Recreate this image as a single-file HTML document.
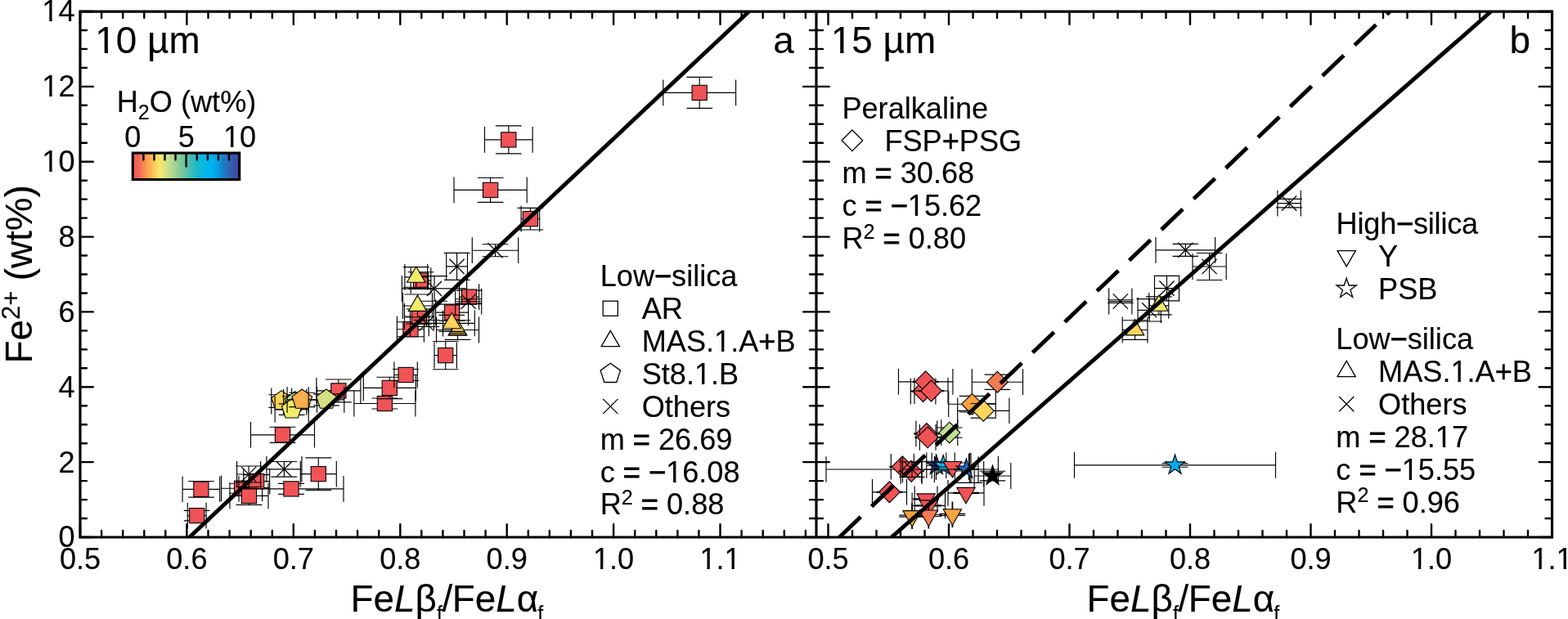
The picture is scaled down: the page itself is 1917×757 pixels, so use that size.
<!DOCTYPE html>
<html lang="en"><head><meta charset="utf-8"><title>Fe2+ vs FeLb/FeLa</title>
<style>html,body{margin:0;padding:0;background:#fff}body{width:1917px;height:757px;overflow:hidden}svg{display:block}text{font-family:"Liberation Sans",Arial,Helvetica,sans-serif;fill:#000;stroke:#000;stroke-width:0.12px}.o{stroke-width:0.8px}.p{stroke-width:0.45px}.s{font-size:36.15px}.b{font-size:45.83px}.e{stroke:#000;stroke-width:1.15;fill:none}.m{stroke:#000;stroke-width:1.1}.g{stroke:#000;stroke-width:1.3;fill:none}.t{stroke:#000;stroke-width:2.4;fill:none;stroke-linecap:round}.x{stroke:#000;stroke-width:1.3;fill:none}.l{stroke:#000;stroke-width:4.9;fill:none}</style></head><body>
<svg width="1917" height="757" viewBox="0 0 1917 757">
<rect width="1917" height="757" fill="#fff"/>
<defs><clipPath id="ca"><rect x="98" y="14" width="900" height="643"/></clipPath><clipPath id="cb"><rect x="998" y="14" width="899.5" height="643"/></clipPath>
<linearGradient id="cg" x1="0" x2="1" y1="0" y2="0">
<stop offset="0" stop-color="#f2585a"/>
<stop offset="0.05" stop-color="#f2655a"/>
<stop offset="0.085" stop-color="#f47b55"/>
<stop offset="0.126" stop-color="#f99d4f"/>
<stop offset="0.168" stop-color="#fbb355"/>
<stop offset="0.215" stop-color="#fbd65e"/>
<stop offset="0.257" stop-color="#f6e96a"/>
<stop offset="0.3" stop-color="#dce487"/>
<stop offset="0.346" stop-color="#bfdd90"/>
<stop offset="0.394" stop-color="#a3d594"/>
<stop offset="0.44" stop-color="#86cb99"/>
<stop offset="0.5" stop-color="#5fc2a5"/>
<stop offset="0.554" stop-color="#3abdb8"/>
<stop offset="0.614" stop-color="#17b9cf"/>
<stop offset="0.673" stop-color="#03b6e6"/>
<stop offset="0.733" stop-color="#00b2f0"/>
<stop offset="0.792" stop-color="#07a2e3"/>
<stop offset="0.84" stop-color="#1583c8"/>
<stop offset="0.893" stop-color="#2e69b5"/>
<stop offset="0.952" stop-color="#3a52a6"/>
<stop offset="1" stop-color="#3c4aa2"/>
</linearGradient></defs>
<g clip-path="url(#ca)">
<path class="e" d="M223.1 598.3H268.7M223.1 582.4V614.1M268.7 582.4V614.1M245.9 588.5V608.1M230.1 588.5H261.8M230.1 608.1H261.8"/>
<rect class="m" fill="#ef5356" x="236.8" y="589.2" width="18.2" height="18.2"/>
<path class="e" d="M229.3 630.6H252.1M229.3 614.8V646.5M252.1 614.8V646.5M240.7 624.4V636.8M224.8 624.4H256.6M224.8 636.8H256.6"/>
<rect class="m" fill="#ef5356" x="231.6" y="621.5" width="18.2" height="18.2"/>
<path class="e" d="M270.6 597.2H320.6M270.6 581.4V613.1M320.6 581.4V613.1M295.6 591.2V603.2M279.8 591.2H311.5M279.8 603.2H311.5"/>
<rect class="m" fill="#ef5356" x="286.5" y="588.1" width="18.2" height="18.2"/>
<path class="e" d="M297.7 588.6H329.7M297.7 572.8V604.5M329.7 572.8V604.5M313.7 580.6V596.6M297.8 580.6H329.6M297.8 596.6H329.6"/>
<rect class="m" fill="#ef5356" x="304.6" y="579.5" width="18.2" height="18.2"/>
<path class="e" d="M281 606.4H328M281 590.5V622.2M328 590.5V622.2M304.5 595.5V617.3M288.6 595.5H320.4M288.6 617.3H320.4"/>
<rect class="m" fill="#ef5356" x="295.4" y="597.3" width="18.2" height="18.2"/>
<path class="e" d="M292 597.9H420M292 582V613.8M420 582V613.8M356 591.4V604.4M340.1 591.4H371.9M340.1 604.4H371.9"/>
<rect class="m" fill="#ef5356" x="346.9" y="588.8" width="18.2" height="18.2"/>
<path class="e" d="M367.3 579.6H411.3M367.3 563.8V595.5M411.3 563.8V595.5M389.3 559.8V599.4M373.4 559.8H405.2M373.4 599.4H405.2"/>
<rect class="m" fill="#ef5356" x="380.2" y="570.5" width="18.2" height="18.2"/>
<path class="e" d="M306.5 531.8H384.5M306.5 515.9V547.6M384.5 515.9V547.6M345.5 522.2V541.4M329.6 522.2H361.4M329.6 541.4H361.4"/>
<rect class="m" fill="#ef5356" x="336.4" y="522.7" width="18.2" height="18.2"/>
<path class="e" d="M386.9 477.9H440.9M386.9 462V493.8M440.9 462V493.8M413.9 464V491.8M398 464H429.8M398 491.8H429.8"/>
<rect class="m" fill="#ef5356" x="404.8" y="468.8" width="18.2" height="18.2"/>
<path class="e" d="M432.9 493.5H507.9M432.9 477.6V509.4M507.9 477.6V509.4M470.4 487V500M454.5 487H486.2M454.5 500H486.2"/>
<rect class="m" fill="#ef5356" x="461.3" y="484.4" width="18.2" height="18.2"/>
<path class="e" d="M444.3 474.4H508.3M444.3 458.5V490.2M508.3 458.5V490.2M476.3 461.2V487.6M460.4 461.2H492.2M460.4 487.6H492.2"/>
<rect class="m" fill="#ef5356" x="467.2" y="465.3" width="18.2" height="18.2"/>
<path class="e" d="M481.9 458.5H510.3M481.9 442.6V474.4M510.3 442.6V474.4M496.1 451.5V465.5M480.2 451.5H512M480.2 465.5H512"/>
<rect class="m" fill="#ef5356" x="487" y="449.4" width="18.2" height="18.2"/>
<path class="e" d="M531 434.6H558.4M531 418.8V450.5M558.4 418.8V450.5M544.7 417.5V451.7M528.9 417.5H560.6M528.9 451.7H560.6"/>
<rect class="m" fill="#ef5356" x="535.6" y="425.5" width="18.2" height="18.2"/>
<path class="e" d="M485.4 402.7H518.4M485.4 386.8V418.6M518.4 386.8V418.6M501.9 393.7V411.7M486 393.7H517.8M486 411.7H517.8"/>
<rect class="m" fill="#ef5356" x="492.8" y="393.6" width="18.2" height="18.2"/>
<path class="e" d="M494.5 387H530.5M494.5 371.1V402.9M530.5 371.1V402.9M512.5 378V396M496.6 378H528.4M496.6 396H528.4"/>
<rect class="m" fill="#ef5356" x="503.4" y="377.9" width="18.2" height="18.2"/>
<path class="e" d="M532.6 382.1H572.6M532.6 366.2V398M572.6 366.2V398M552.6 372.1V392.1M536.8 372.1H568.5M536.8 392.1H568.5"/>
<rect class="m" fill="#ef5356" x="543.5" y="373" width="18.2" height="18.2"/>
<path class="e" d="M561.6 363.1H585.6M561.6 347.2V379M585.6 347.2V379M573.6 355.1V371.1M557.8 355.1H589.5M557.8 371.1H589.5"/>
<rect class="m" fill="#ef5356" x="564.5" y="354" width="18.2" height="18.2"/>
<path class="e" d="M502.2 343.1H526.8M502.2 327.2V359M526.8 327.2V359M514.5 332.7V353.5M498.6 332.7H530.4M498.6 353.5H530.4"/>
<rect class="m" fill="#ef5356" x="505.4" y="334" width="18.2" height="18.2"/>
<path class="e" d="M555 232.4H644.2M555 216.6V248.2M644.2 216.6V248.2M599.6 217.5V247.3M583.8 217.5H615.5M583.8 247.3H615.5"/>
<rect class="m" fill="#ef5356" x="590.5" y="223.3" width="18.2" height="18.2"/>
<path class="e" d="M637.1 267.7H659.7M637.1 251.8V283.6M659.7 251.8V283.6M648.4 254.4V281M632.5 254.4H664.2M632.5 281H664.2"/>
<rect class="m" fill="#ef5356" x="639.3" y="258.6" width="18.2" height="18.2"/>
<path class="e" d="M592.5 170.9H651.1M592.5 155.1V186.8M651.1 155.1V186.8M621.8 153.9V187.9M605.9 153.9H637.6M605.9 187.9H637.6"/>
<rect class="m" fill="#ef5356" x="612.7" y="161.8" width="18.2" height="18.2"/>
<path class="e" d="M810.8 113.4H899.6M810.8 97.6V129.2M899.6 97.6V129.2M855.2 94.4V132.4M839.4 94.4H871.1M839.4 132.4H871.1"/>
<rect class="m" fill="#ef5356" x="846.1" y="104.3" width="18.2" height="18.2"/>
<path class="e" d="M289.6 580H318.6M289.6 564.1V595.9M318.6 564.1V595.9M304.1 570V590M288.2 570H320M288.2 590H320"/>
<path class="x" d="M295 570.9L313.2 589.1M295 589.1L313.2 570.9"/>
<path class="e" d="M325.9 573.8H368.9M325.9 557.9V589.6M368.9 557.9V589.6M347.4 564.5V583.1M331.5 564.5H363.2M331.5 583.1H363.2"/>
<path class="x" d="M338.3 564.7L356.5 582.9M338.3 582.9L356.5 564.7"/>
<path class="e" d="M545.7 325.9H571.5M545.7 310V341.8M571.5 310V341.8M558.6 309.4V342.4M542.8 309.4H574.5M542.8 342.4H574.5"/>
<path class="x" d="M549.5 316.8L567.7 335M549.5 335L567.7 316.8"/>
<path class="e" d="M577.3 306.2H633.7M577.3 290.3V322.1M633.7 290.3V322.1M605.5 298.7V313.7M589.6 298.7H621.4M589.6 313.7H621.4"/>
<path class="x" d="M596.4 297.1L614.6 315.3M596.4 315.3L614.6 297.1"/>
<path class="e" d="M491.4 352.9H570.6M491.4 337V368.8M570.6 337V368.8M531 337.6V368.2M515.1 337.6H546.9M515.1 368.2H546.9"/>
<path class="x" d="M521.9 343.8L540.1 362M521.9 362L540.1 343.8"/>
<path class="e" d="M556.7 368.7H588.7M556.7 352.8V384.6M588.7 352.8V384.6M572.7 365.7V371.7M556.9 365.7H588.6M556.9 371.7H588.6"/>
<path class="x" d="M563.6 359.6L581.8 377.8M563.6 377.8L581.8 359.6"/>
<path class="e" d="M501.5 395.5H541.5M501.5 379.6V411.4M541.5 379.6V411.4M521.5 391.5V399.5M505.6 391.5H537.4M505.6 399.5H537.4"/>
<path class="x" d="M512.4 386.4L530.6 404.6M512.4 404.6L530.6 386.4"/>
<path class="e" d="M331.8 490.5H356.6M331.8 474.6V506.4M356.6 474.6V506.4M344.2 482.7V498.3M328.3 482.7H360.1M328.3 498.3H360.1"/>
<polygon class="m" fill="#fbd45c" points="344.2,477.6 356.5,486.5 351.8,500.9 336.6,500.9 331.9,486.5"/>
<path class="e" d="M346.7 491.7H374.7M346.7 475.8V507.6M374.7 475.8V507.6M360.7 484.7V498.7M344.8 484.7H376.6M344.8 498.7H376.6"/>
<polygon class="m" fill="#bfdf94" points="360.7,478.8 373,487.7 368.3,502.1 353.1,502.1 348.4,487.7"/>
<path class="e" d="M336.2 500.6H377.2M336.2 484.8V516.5M377.2 484.8V516.5M356.7 493.8V507.4M340.8 493.8H372.6M340.8 507.4H372.6"/>
<polygon class="m" fill="#f0eb6a" points="356.7,487.7 369,496.6 364.3,511 349.1,511 344.4,496.6"/>
<path class="e" d="M351.1 488.9H387.5M351.1 473V504.8M387.5 473V504.8M369.3 480.2V497.6M353.4 480.2H385.2M353.4 497.6H385.2"/>
<polygon class="m" fill="#f8af4f" points="369.3,476 381.6,484.9 376.9,499.3 361.7,499.3 357,484.9"/>
<path class="e" d="M377.2 488.9H420.8M377.2 473V504.8M420.8 473V504.8M399 481.9V495.9M383.1 481.9H414.9M383.1 495.9H414.9"/>
<polygon class="m" fill="#d5e085" points="399,476 411.3,484.9 406.6,499.3 391.4,499.3 386.7,484.9"/>
<path class="e" d="M533.5 403.5H585.5M533.5 387.6V419.4M585.5 387.6V419.4M559.5 391.7V415.3M543.6 391.7H575.4M543.6 415.3H575.4"/>
<polygon class="m" fill="#fbd45c" points="559.5,390.6 570.7,409.9 548.3,409.9"/>
<path class="e" d=""/>
<polygon class="m" fill="#a8883a" points="549.9,407.2 569.1,407.2 570.7,409.9 548.3,409.9"/>
<path class="e" d="M524.3 395.3H580.3M524.3 379.4V411.2M580.3 379.4V411.2M552.3 385.3V405.3M536.4 385.3H568.1M536.4 405.3H568.1"/>
<polygon class="m" fill="#fbd45c" points="552.3,382.4 563.5,401.8 541.1,401.8"/>
<path class="e" d="M492.5 374H528.5M492.5 358.1V389.9M528.5 358.1V389.9M510.5 360V388M494.6 360H526.4M494.6 388H526.4"/>
<polygon class="m" fill="#f0eb6a" points="510.5,361.1 521.7,380.4 499.3,380.4"/>
<path class="e" d="M494.9 338.9H522.7M494.9 323V354.8M522.7 323V354.8M508.8 326.6V351.2M492.9 326.6H524.6M492.9 351.2H524.6"/>
<polygon class="m" fill="#f0eb6a" points="508.8,326 520,345.3 497.6,345.3"/>
</g>
<g clip-path="url(#cb)">
<path class="e" d="M1010 574H1196M1010 558.3V589.7M1196 558.3V589.7M1185.5 553.7V589.7M1187 553.7V589.7M1202.7 564V595M1167.7 590.4H1201"/>
<path class="e" d="M1113.3 478.5H1143.9M1113.3 462.6V494.4M1143.9 462.6V494.4M1128.6 478V479M1112.8 478H1144.4M1112.8 479H1144.4"/>
<polygon class="m" fill="#ef5356" points="1128.6,465.6 1141.5,478.5 1128.6,491.4 1115.7,478.5"/>
<path class="e" d="M1098.5 466.8H1164.9M1098.5 450.9V482.7M1164.9 450.9V482.7M1131.7 466.3V467.3M1115.9 466.3H1147.5M1115.9 467.3H1147.5"/>
<polygon class="m" fill="#ef5356" points="1131.7,453.9 1144.6,466.8 1131.7,479.7 1118.8,466.8"/>
<path class="e" d="M1118 478H1159M1118 462.1V493.9M1159 462.1V493.9M1138.5 477.5V478.5M1122.7 477.5H1154.3M1122.7 478.5H1154.3"/>
<polygon class="m" fill="#ef5356" points="1138.5,465.1 1151.4,478 1138.5,490.9 1125.6,478"/>
<path class="e" d="M1188.3 467.2H1250.5M1188.3 451.3V483.1M1250.5 451.3V483.1M1219.4 458.1V476.3M1203.6 458.1H1235.2M1203.6 476.3H1235.2"/>
<polygon class="m" fill="#f47c52" points="1219.4,454.3 1232.3,467.2 1219.4,480.1 1206.5,467.2"/>
<path class="e" d="M1159.7 494.2H1217.3M1159.7 478.3V510.1M1217.3 478.3V510.1M1188.5 484.4V504M1172.7 484.4H1204.3M1172.7 504H1204.3"/>
<polygon class="m" fill="#f7a23f" points="1188.5,481.3 1201.4,494.2 1188.5,507.1 1175.6,494.2"/>
<path class="e" d="M1170.7 502.3H1233.9M1170.7 486.4V518.1M1233.9 486.4V518.1M1202.3 493.5V511.1M1186.5 493.5H1218.1M1186.5 511.1H1218.1"/>
<polygon class="m" fill="#fbd45c" points="1202.3,489.4 1215.2,502.3 1202.3,515.2 1189.4,502.3"/>
<path class="e" d="M1119.9 530.4H1145.7M1119.9 514.5V546.2M1145.7 514.5V546.2M1132.8 529.9V530.9M1117 529.9H1148.6M1117 530.9H1148.6"/>
<polygon class="m" fill="#ef5356" points="1132.8,517.5 1145.7,530.4 1132.8,543.3 1119.9,530.4"/>
<path class="e" d="M1124.4 534.9H1144M1124.4 519V550.8M1144 519V550.8M1134.2 534.4V535.4M1118.4 534.4H1150M1118.4 535.4H1150"/>
<polygon class="m" fill="#ef5356" points="1134.2,522 1147.1,534.9 1134.2,547.8 1121.3,534.9"/>
<path class="e" d="M1150.8 529.1H1170.8M1150.8 513.2V545M1170.8 513.2V545M1160.8 523V535.2M1145 523H1176.6M1145 535.2H1176.6"/>
<polygon class="m" fill="#bfdf94" points="1160.8,516.2 1173.7,529.1 1160.8,542 1147.9,529.1"/>
<path class="e" d="M1089.3 570.8H1117.3M1089.3 554.9V586.6M1117.3 554.9V586.6M1103.3 570.3V571.3M1087.5 570.3H1119.1M1087.5 571.3H1119.1"/>
<polygon class="m" fill="#ef5356" points="1103.3,557.9 1116.2,570.8 1103.3,583.7 1090.4,570.8"/>
<path class="e" d="M1101.2 576.2H1127.2M1101.2 560.4V592.1M1127.2 560.4V592.1M1114.2 575.7V576.7M1098.4 575.7H1130M1098.4 576.7H1130"/>
<polygon class="m" fill="#ef5356" points="1114.2,563.3 1127.1,576.2 1114.2,589.1 1101.3,576.2"/>
<path class="e" d="M1066.5 601.8H1108.5M1066.5 585.9V617.6M1108.5 585.9V617.6M1087.5 601.3V602.3M1071.7 601.3H1103.3M1071.7 602.3H1103.3"/>
<polygon class="m" fill="#ef5356" points="1087.5,588.9 1100.4,601.8 1087.5,614.7 1074.6,601.8"/>
<path class="e" d="M1103.5 574H1126.5M1103.5 558.1V589.9M1126.5 558.1V589.9M1115 564.7V583.3M1099.2 564.7H1130.8M1099.2 583.3H1130.8"/>
<path class="x" d="M1105.9 564.9L1124.1 583.1M1105.9 583.1L1124.1 564.9"/>
<path class="e" d="M1132.8 569.2H1156.8M1132.8 553.4V585.1M1156.8 553.4V585.1M1144.8 564.2V574.2M1129 564.2H1160.6M1129 574.2H1160.6"/>
<polygon class="m" fill="#3341a5" points="1144.8,556.3 1147.7,565.2 1157.1,565.2 1149.5,570.7 1152.4,579.6 1144.8,574.1 1137.2,579.6 1140.1,570.7 1132.5,565.2 1141.9,565.2"/>
<path class="e" d="M1139.2 569.5H1167.2M1139.2 553.6V585.4M1167.2 553.6V585.4M1153.2 565.5V573.5M1137.4 565.5H1169M1137.4 573.5H1169"/>
<polygon class="m" fill="#0fb5ec" points="1153.2,556.6 1156.1,565.5 1165.5,565.5 1157.9,571 1160.8,579.9 1153.2,574.4 1145.6,579.9 1148.5,571 1140.9,565.5 1150.3,565.5"/>
<path class="e" d="M1144.4 571H1184.4M1144.4 555.1V586.9M1184.4 555.1V586.9M1164.4 566V576M1148.6 566H1180.2M1148.6 576H1180.2"/>
<polygon class="m" fill="#ef5356" points="1164.4,583.9 1175.6,564.5 1153.2,564.5"/>
<path class="e" d="M1142.4 574H1220.4M1142.4 558.1V589.9M1220.4 558.1V589.9M1181.4 573.5V574.5M1165.6 573.5H1197.2M1165.6 574.5H1197.2"/>
<polygon class="m" fill="#2364c4" points="1181.4,561.1 1184.3,570 1193.7,570 1186.1,575.5 1189,584.4 1181.4,578.9 1173.8,584.4 1176.7,575.5 1169.1,570 1178.5,570"/>
<path class="e" d="M1191.2 582H1235.8M1191.2 566.1V597.9M1235.8 566.1V597.9M1213.5 576.2V587.8M1197.7 576.2H1229.3M1197.7 587.8H1229.3"/>
<polygon class="m" fill="#000" points="1213.5,569.1 1216.4,578 1225.8,578 1218.2,583.5 1221.1,592.4 1213.5,586.9 1205.9,592.4 1208.8,583.5 1201.2,578 1210.6,578"/>
<path class="e" d="M1313.5 568.9H1559.5M1313.5 553V584.8M1559.5 553V584.8M1436.5 566.6V571.2M1420.7 566.6H1452.3M1420.7 571.2H1452.3"/>
<polygon class="m" fill="#08aae6" points="1436.5,556 1439.4,564.9 1448.8,564.9 1441.2,570.4 1444.1,579.3 1436.5,573.8 1428.9,579.3 1431.8,570.4 1424.2,564.9 1433.6,564.9"/>
<path class="e" d="M1118.2 610.4H1146M1118.2 594.5V626.2M1146 594.5V626.2M1132.1 609.9V610.9M1116.2 609.9H1147.9M1116.2 610.9H1147.9"/>
<polygon class="m" fill="#ef5356" points="1132.1,623.3 1143.3,603.9 1120.9,603.9"/>
<path class="e" d="M1115.1 618.4H1155.5M1115.1 602.5V634.2M1155.5 602.5V634.2M1135.3 617.9V618.9M1119.5 617.9H1151.1M1119.5 618.9H1151.1"/>
<polygon class="m" fill="#ef5356" points="1135.3,631.3 1146.5,611.9 1124.1,611.9"/>
<path class="e" d="M1159 602.9H1203M1159 587V618.8M1203 587V618.8M1181 602.4V603.4M1165.2 602.4H1196.8M1165.2 603.4H1196.8"/>
<polygon class="m" fill="#ef5356" points="1181,615.8 1192.2,596.4 1169.8,596.4"/>
<path class="e" d="M1114.8 631.1H1115.4M1114.8 615.2V647M1115.4 615.2V647M1115.1 630.1V632.1M1099.2 630.1H1130.9M1099.2 632.1H1130.9"/>
<polygon class="m" fill="#f7a23f" points="1115.1,644 1126.3,624.6 1103.9,624.6"/>
<path class="e" d="M1135 630.5H1135.6M1135 614.6V646.4M1135.6 614.6V646.4M1135.3 629.5V631.5M1119.5 629.5H1151.1M1119.5 631.5H1151.1"/>
<polygon class="m" fill="#f47c52" points="1135.3,643.4 1146.5,624 1124.1,624"/>
<path class="e" d="M1164.1 629.3H1164.7M1164.1 613.4V645.1M1164.7 613.4V645.1M1164.4 628.3V630.3M1148.6 628.3H1180.2M1148.6 630.3H1180.2"/>
<polygon class="m" fill="#f7a23f" points="1164.4,642.2 1175.6,622.8 1153.2,622.8"/>
<path class="e" d="M1413 305.9H1485.6M1413 290V321.8M1485.6 290V321.8M1449.3 298.4V313.4M1433.5 298.4H1465.1M1433.5 313.4H1465.1"/>
<path class="x" d="M1440.2 296.8L1458.4 315M1440.2 315L1458.4 296.8"/>
<path class="e" d="M1458 326H1499.2M1458 310.1V341.9M1499.2 310.1V341.9M1478.6 309.5V342.5M1462.8 309.5H1494.4M1462.8 342.5H1494.4"/>
<path class="x" d="M1469.5 316.9L1487.7 335.1M1469.5 335.1L1487.7 316.9"/>
<path class="e" d="M1411.5 352.6H1441.5M1411.5 336.8V368.5M1441.5 336.8V368.5M1426.5 337.3V367.9M1410.7 337.3H1442.3M1410.7 367.9H1442.3"/>
<path class="x" d="M1417.4 343.5L1435.6 361.7M1417.4 361.7L1435.6 343.5"/>
<path class="e" d="M1355.7 368.5H1383.9M1355.7 352.6V384.4M1383.9 352.6V384.4M1369.8 366.7V370.3M1354 366.7H1385.6M1354 370.3H1385.6"/>
<path class="x" d="M1360.7 359.4L1378.9 377.6M1360.7 377.6L1378.9 359.4"/>
<path class="e" d="M1391.1 379.3H1419.3M1391.1 363.4V395.2M1419.3 363.4V395.2M1405.2 365.6V393M1389.4 365.6H1421M1389.4 393H1421"/>
<path class="x" d="M1396.1 370.2L1414.3 388.4M1396.1 388.4L1414.3 370.2"/>
<path class="e" d="M1561.9 248.6H1590.3M1561.9 232.8V264.4M1590.3 232.8V264.4M1576.1 243.4V253.8M1560.2 243.4H1591.9M1560.2 253.8H1591.9"/>
<path class="x" d="M1567 239.5L1585.2 257.7M1567 257.7L1585.2 239.5"/>
<path class="e" d="M1404.8 373.9H1428.8M1404.8 358V389.8M1428.8 358V389.8M1416.8 362.9V384.9M1401 362.9H1432.6M1401 384.9H1432.6"/>
<polygon class="m" fill="#f0eb6a" points="1416.8,361 1428,380.3 1405.6,380.3"/>
<path class="e" d="M1372.2 403.5H1403M1372.2 387.6V419.4M1403 387.6V419.4M1387.6 391.7V415.3M1371.8 391.7H1403.4M1371.8 415.3H1403.4"/>
<polygon class="m" fill="#fbd45c" points="1387.6,390.6 1398.8,409.9 1376.4,409.9"/>
</g>
<g clip-path="url(#ca)"><line class="l" x1="231.6" y1="657" x2="915.7" y2="14"/></g>
<g clip-path="url(#cb)"><line class="l" x1="1089.9" y1="657" x2="1822.9" y2="14"/>
<line class="l" stroke-dasharray="36.2 18.25" stroke-dashoffset="0" x1="1026.2" y1="657" x2="1699.2" y2="14"/></g>
<path class="t" d="M98 657h15.8M982.2 657h31.6M1897.5 657h-15.8M98 634h8M990 634h16M1897.5 634h-8M98 611.1h8M990 611.1h16M1897.5 611.1h-8M98 588.1h8M990 588.1h16M1897.5 588.1h-8M98 565.1h15.8M982.2 565.1h31.6M1897.5 565.1h-15.8M98 542.2h8M990 542.2h16M1897.5 542.2h-8M98 519.2h8M990 519.2h16M1897.5 519.2h-8M98 496.2h8M990 496.2h16M1897.5 496.2h-8M98 473.3h15.8M982.2 473.3h31.6M1897.5 473.3h-15.8M98 450.3h8M990 450.3h16M1897.5 450.3h-8M98 427.4h8M990 427.4h16M1897.5 427.4h-8M98 404.4h8M990 404.4h16M1897.5 404.4h-8M98 381.4h15.8M982.2 381.4h31.6M1897.5 381.4h-15.8M98 358.5h8M990 358.5h16M1897.5 358.5h-8M98 335.5h8M990 335.5h16M1897.5 335.5h-8M98 312.5h8M990 312.5h16M1897.5 312.5h-8M98 289.6h15.8M982.2 289.6h31.6M1897.5 289.6h-15.8M98 266.6h8M990 266.6h16M1897.5 266.6h-8M98 243.6h8M990 243.6h16M1897.5 243.6h-8M98 220.7h8M990 220.7h16M1897.5 220.7h-8M98 197.7h15.8M982.2 197.7h31.6M1897.5 197.7h-15.8M98 174.8h8M990 174.8h16M1897.5 174.8h-8M98 151.8h8M990 151.8h16M1897.5 151.8h-8M98 128.8h8M990 128.8h16M1897.5 128.8h-8M98 105.9h15.8M982.2 105.9h31.6M1897.5 105.9h-15.8M98 82.9h8M990 82.9h16M1897.5 82.9h-8M98 59.9h8M990 59.9h16M1897.5 59.9h-8M98 37h8M990 37h16M1897.5 37h-8M98 14h15.8M982.2 14h31.6M1897.5 14h-15.8M98 657v-15.8M98 14v15.8M124.1 657v-8M124.1 14v8M150.2 657v-8M150.2 14v8M176.3 657v-8M176.3 14v8M202.3 657v-8M202.3 14v8M228.4 657v-15.8M228.4 14v15.8M254.5 657v-8M254.5 14v8M280.6 657v-8M280.6 14v8M306.7 657v-8M306.7 14v8M332.8 657v-8M332.8 14v8M358.8 657v-15.8M358.8 14v15.8M384.9 657v-8M384.9 14v8M411 657v-8M411 14v8M437.1 657v-8M437.1 14v8M463.2 657v-8M463.2 14v8M489.3 657v-15.8M489.3 14v15.8M515.3 657v-8M515.3 14v8M541.4 657v-8M541.4 14v8M567.5 657v-8M567.5 14v8M593.6 657v-8M593.6 14v8M619.7 657v-15.8M619.7 14v15.8M645.8 657v-8M645.8 14v8M671.8 657v-8M671.8 14v8M697.9 657v-8M697.9 14v8M724 657v-8M724 14v8M750.1 657v-15.8M750.1 14v15.8M776.2 657v-8M776.2 14v8M802.3 657v-8M802.3 14v8M828.4 657v-8M828.4 14v8M854.4 657v-8M854.4 14v8M880.5 657v-15.8M880.5 14v15.8M906.6 657v-8M906.6 14v8M932.7 657v-8M932.7 14v8M958.8 657v-8M958.8 14v8M984.9 657v-8M984.9 14v8M1012.5 657v-15.8M1012.5 14v15.8M1042 657v-8M1042 14v8M1071.5 657v-8M1071.5 14v8M1101 657v-8M1101 14v8M1130.5 657v-8M1130.5 14v8M1160 657v-15.8M1160 14v15.8M1189.5 657v-8M1189.5 14v8M1219 657v-8M1219 14v8M1248.5 657v-8M1248.5 14v8M1278 657v-8M1278 14v8M1307.5 657v-15.8M1307.5 14v15.8M1337 657v-8M1337 14v8M1366.5 657v-8M1366.5 14v8M1396 657v-8M1396 14v8M1425.5 657v-8M1425.5 14v8M1455 657v-15.8M1455 14v15.8M1484.5 657v-8M1484.5 14v8M1514 657v-8M1514 14v8M1543.5 657v-8M1543.5 14v8M1573 657v-8M1573 14v8M1602.5 657v-15.8M1602.5 14v15.8M1632 657v-8M1632 14v8M1661.5 657v-8M1661.5 14v8M1691 657v-8M1691 14v8M1720.5 657v-8M1720.5 14v8M1750 657v-15.8M1750 14v15.8M1779.5 657v-8M1779.5 14v8M1809 657v-8M1809 14v8M1838.5 657v-8M1838.5 14v8M1868 657v-8M1868 14v8"/>
<path d="M98 14.15H1897.5V657H98ZM998 14.15V657" fill="none" stroke="#000" stroke-width="3.15" stroke-linejoin="miter"/>
<text class="s" text-anchor="end" x="91.5" y="669.4">0</text>
<text class="s" text-anchor="end" x="91.5" y="577.5">2</text>
<text class="s" text-anchor="end" x="91.5" y="485.7">4</text>
<text class="s" text-anchor="end" x="91.5" y="393.8">6</text>
<text class="s" text-anchor="end" x="91.5" y="302">8</text>
<text class="s" text-anchor="end" x="91.5" y="210.1">10</text>
<text class="s" text-anchor="end" x="91.5" y="118.3">12</text>
<text class="s" text-anchor="end" x="91.5" y="26.4">14</text>
<text class="s" text-anchor="middle" x="98" y="696">0.5</text>
<text class="s" text-anchor="middle" x="1012.5" y="696">0.5</text>
<text class="s" text-anchor="middle" x="228.4" y="696">0.6</text>
<text class="s" text-anchor="middle" x="1160" y="696">0.6</text>
<text class="s" text-anchor="middle" x="358.8" y="696">0.7</text>
<text class="s" text-anchor="middle" x="1307.5" y="696">0.7</text>
<text class="s" text-anchor="middle" x="489.3" y="696">0.8</text>
<text class="s" text-anchor="middle" x="1455" y="696">0.8</text>
<text class="s" text-anchor="middle" x="619.7" y="696">0.9</text>
<text class="s" text-anchor="middle" x="1602.5" y="696">0.9</text>
<text class="s" text-anchor="middle" x="750.1" y="696">1.0</text>
<text class="s" text-anchor="middle" x="1750" y="696">1.0</text>
<text class="s" text-anchor="middle" x="880.5" y="696">1.1</text>
<text class="s" text-anchor="middle" x="1897.5" y="696">1.1</text>
<text class="b" x="428.6" y="748">Fe<tspan font-style="italic">L</tspan>β<tspan font-size="25" dy="10.7" dx="0">f</tspan><tspan dy="-10.7" dx="-0.4">/</tspan><tspan dx="-0.6">Fe</tspan><tspan font-style="italic">L</tspan>α<tspan font-size="25" dy="10.7" dx="-0.8">f</tspan></text>
<text class="b" x="1328.6" y="748">Fe<tspan font-style="italic">L</tspan>β<tspan font-size="25" dy="10.7" dx="0">f</tspan><tspan dy="-10.7" dx="-0.4">/</tspan><tspan dx="-0.6">Fe</tspan><tspan font-style="italic">L</tspan>α<tspan font-size="25" dy="10.7" dx="-0.8">f</tspan></text>
<text class="b" text-anchor="middle" transform="translate(38.8 335.3) rotate(-90)">Fe<tspan font-size="31" dy="-15">2+</tspan><tspan dy="15" dx="-0.5"> (wt%)</tspan></text>
<text class="b" x="116.3" y="64.8">10 µm</text>
<text class="b" x="1015.8" y="64.8">15 µm</text>
<text class="b" text-anchor="end" x="970.8" y="65.4">a</text>
<text class="b" text-anchor="end" x="1871" y="65.2">b</text>
<rect x="162.3" y="187.1" width="130.4" height="32.5" fill="url(#cg)"/>
<path class="t" d="M175.4 187.1v8.3M188.5 187.1v8.3M201.5 187.1v8.3M214.6 187.1v8.3M227.7 187.1v16.5M240.8 187.1v8.3M253.9 187.1v8.3M266.9 187.1v8.3M280 187.1v8.3"/>
<rect x="162.3" y="187.1" width="130.4" height="32.5" fill="none" stroke="#000" stroke-width="3.15"/>
<text class="s" text-anchor="middle" x="162.3" y="180.3">0</text><text class="s" text-anchor="middle" x="227.7" y="180.3">5</text><text class="s" text-anchor="middle" x="293.1" y="180.3">10</text>
<text class="s" text-anchor="middle" x="228" y="136.6">H<tspan font-size="25.2" dy="9">2</tspan><tspan dy="-9">O (wt%)</tspan></text>
<text class="s" x="733.7" y="350.1">Low<tspan class="o">−</tspan>silica</text>
<rect class="g" fill="none" x="737.2" y="368.2" width="18.1" height="18.1"/>
<text class="s" x="784.7" y="390">AR</text>
<polygon class="g" fill="none" points="746.3,404.4 757.4,423.6 735.2,423.6"/>
<text class="s" x="784.7" y="429.9">MAS.1.A<tspan class="p">+</tspan>B</text>
<polygon class="g" fill="none" points="746.3,444.3 758.5,453.1 753.8,467.5 738.8,467.5 734.1,453.1"/>
<text class="s" x="784.7" y="469.8">St8.1.B</text>
<path class="g" d="M737.2 487.9L755.4 506.1M737.2 506.1L755.4 487.9"/>
<text class="s" x="784.7" y="509.7">Others</text>
<text class="s" x="733.7" y="549.6">m <tspan class="o">=</tspan> 26.69</text>
<text class="s" x="733.7" y="589.5">c <tspan class="o">=</tspan> <tspan class="o">−</tspan>16.08</text>
<text class="s" x="733.7" y="629.4">R<tspan font-size="25.2" dy="-12.5">2</tspan><tspan dy="12.5"> </tspan><tspan class="o">=</tspan> 0.88</text>
<text class="s" x="1029.4" y="144.6">Peralkaline</text>
<polygon class="g" fill="none" points="1041.9,159 1054.7,171.8 1041.9,184.6 1029.1,171.8"/>
<text class="s" x="1081.4" y="184.5">FSP<tspan class="p">+</tspan>PSG</text>
<text class="s" x="1029.4" y="224.4">m <tspan class="o">=</tspan> 30.68</text>
<text class="s" x="1029.4" y="264.3">c <tspan class="o">=</tspan> <tspan class="o">−</tspan>15.62</text>
<text class="s" x="1029.4" y="304.2">R<tspan font-size="25.2" dy="-12.5">2</tspan><tspan dy="12.5"> </tspan><tspan class="o">=</tspan> 0.80</text>
<text class="s" letter-spacing="-0.22" x="1633.6" y="285.9">High<tspan class="o">−</tspan>silica</text>
<polygon class="g" fill="none" points="1646.2,325.9 1657.3,306.7 1635.1,306.7"/>
<text class="s" x="1685.1" y="325.8">Y</text>
<polygon class="g" fill="none" points="1646.2,340.2 1649.1,349 1658.4,349 1650.9,354.5 1653.7,363.4 1646.2,357.9 1638.7,363.4 1641.5,354.5 1634,349 1643.3,349"/>
<text class="s" x="1685.1" y="365.7">PSB</text>
<text class="s" x="1633.3" y="427">Low<tspan class="o">−</tspan>silica</text>
<polygon class="g" fill="none" points="1646.2,441.4 1657.3,460.6 1635.1,460.6"/>
<text class="s" x="1685.1" y="466.9">MAS.1.A<tspan class="p">+</tspan>B</text>
<path class="g" d="M1637.1 485L1655.3 503.2M1637.1 503.2L1655.3 485"/>
<text class="s" x="1685.1" y="506.8">Others</text>
<text class="s" x="1633.3" y="546.7">m <tspan class="o">=</tspan> 28.17</text>
<text class="s" x="1633.3" y="586.6">c <tspan class="o">=</tspan> <tspan class="o">−</tspan>15.55</text>
<text class="s" x="1633.3" y="626.5">R<tspan font-size="25.2" dy="-12.5">2</tspan><tspan dy="12.5"> </tspan><tspan class="o">=</tspan> 0.96</text>
<path d="M53.25 206.7h7.04v4.2h-7.04zM63.68 206.7h6.85v4.2h-6.85zM53.25 114.9h7.04v4.2h-7.04zM63.68 114.9h6.85v4.2h-6.85zM53.25 23h7.04v4.2h-7.04zM63.68 23h6.85v4.2h-6.85zM726.93 692.6h7.04v4.2h-7.04zM737.36 692.6h6.85v4.2h-6.85zM1726.83 692.6h7.04v4.2h-7.04zM1737.26 692.6h6.85v4.2h-6.85zM857.33 692.6h7.04v4.2h-7.04zM867.76 692.6h6.85v4.2h-6.85zM887.47 692.6h7.04v4.2h-7.04zM897.9 692.6h6.85v4.2h-6.85zM1874.33 692.6h7.04v4.2h-7.04zM1884.76 692.6h6.85v4.2h-6.85zM1904.47 692.6h7.04v4.2h-7.04zM1914.9 692.6h6.85v4.2h-6.85zM118.99 60.68h8.73v4.92h-8.73zM131.98 60.68h8.48v4.92h-8.48zM1018.49 60.68h8.73v4.92h-8.73zM1031.48 60.68h8.48v4.92h-8.48zM274.95 176.9h7.04v4.2h-7.04zM285.38 176.9h6.85v4.2h-6.85zM875 426.5h7.04v4.2h-7.04zM885.43 426.5h6.85v4.2h-6.85zM850.93 466.4h7.04v4.2h-7.04zM861.37 466.4h6.85v4.2h-6.85zM816.04 586.1h7.04v4.2h-7.04zM826.48 586.1h6.85v4.2h-6.85zM1111.74 260.9h7.04v4.2h-7.04zM1122.18 260.9h6.85v4.2h-6.85zM1775.4 463.5h7.04v4.2h-7.04zM1785.83 463.5h6.85v4.2h-6.85zM1756.8 543.3h7.04v4.2h-7.04zM1767.23 543.3h6.85v4.2h-6.85zM1715.64 583.2h7.04v4.2h-7.04zM1726.08 583.2h6.85v4.2h-6.85z" fill="#fff"/></svg></body></html>
